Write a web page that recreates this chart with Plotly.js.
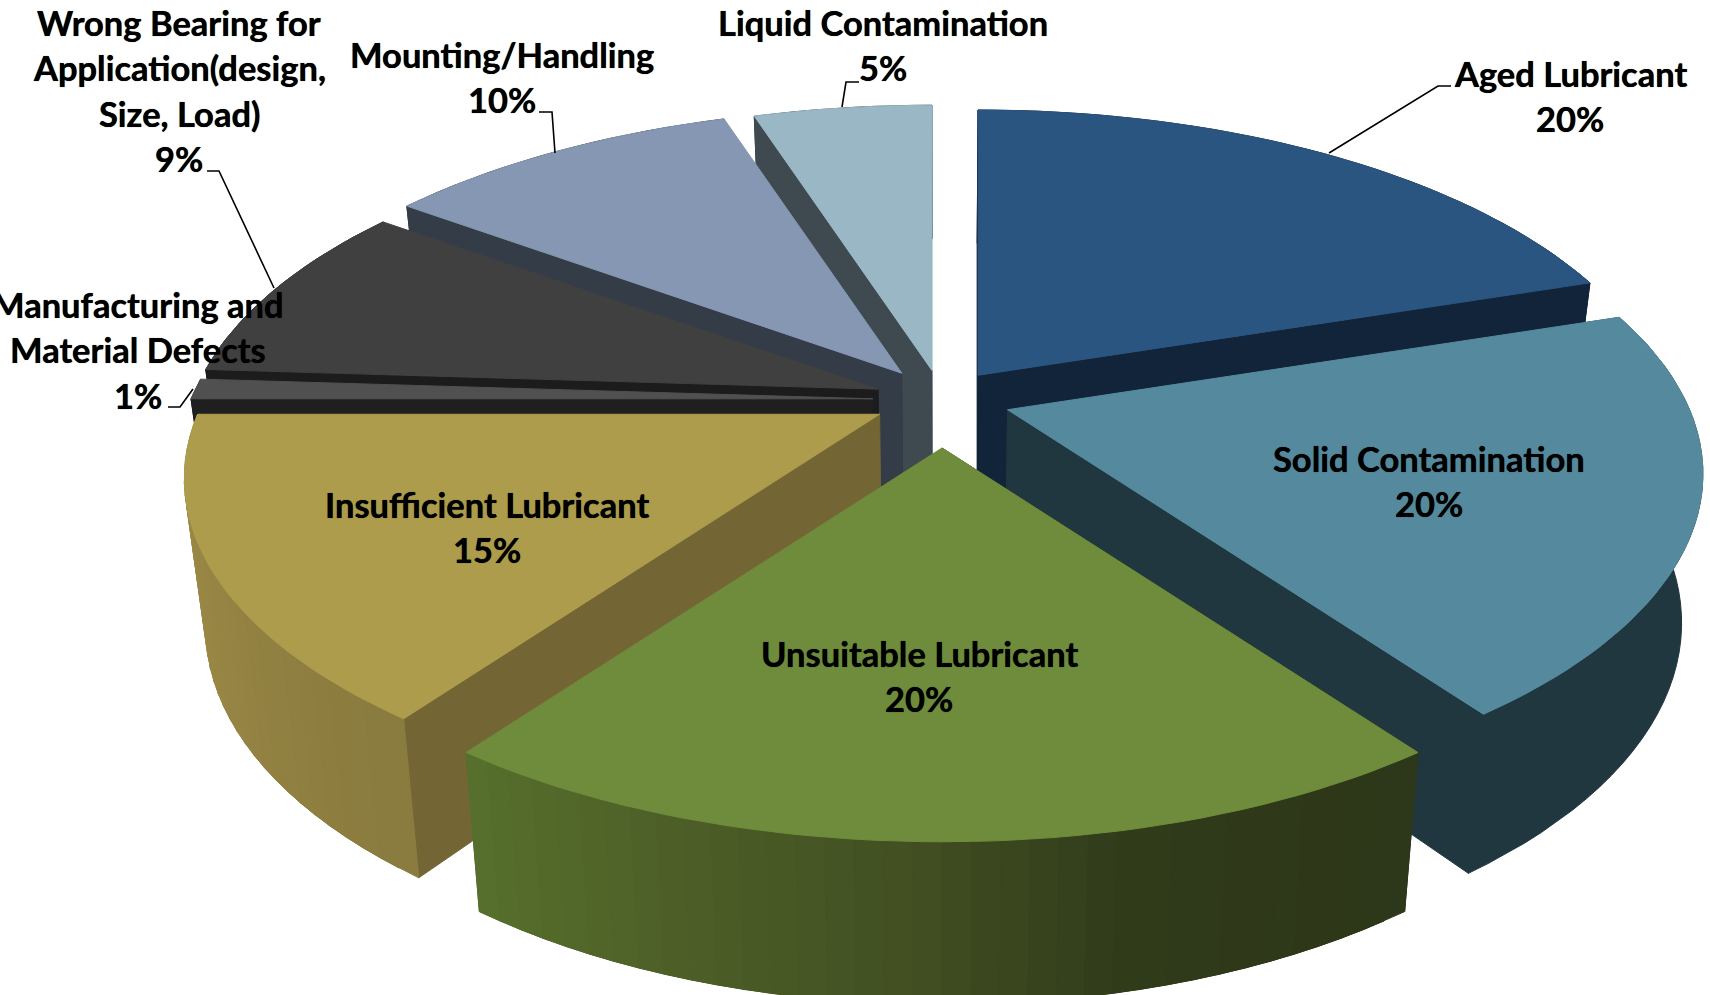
<!DOCTYPE html>
<html><head><meta charset="utf-8">
<script src="https://cdn.plot.ly/plotly-3.0.1.min.js"></script>
<style>html,body{margin:0;padding:0;background:#fff}#c{width:1710px;height:995px}</style>
</head><body><div id="c"></div>
<script>
// ---- data (clockwise from 12 o'clock) ----
const categories = ['Aged Lubricant','Solid Contamination','Unsuitable Lubricant','Insufficient Lubricant','Manufacturing and Material Defects','Wrong Bearing for Application(design, Size, Load)','Mounting/Handling','Liquid Contamination'];
const values = [20,20,20,15,1,9,10,5];
const topColors  = ['#2b5581','#558a9e','#6f8c3c','#ad9c4c','#505050','#404040','#8597b2','#9ab7c5'];
const faceColors = ['#11243a','#20373f','#2d3719','#736634','#1f1f1f','#1c1c1c','#333c47','#3e4a50'];
const wallStops = {
  2:[[144,'#2d3719'],[165,'#303b1a'],[180,'#414f22'],[200,'#4f6228'],[216,'#58722d']],
  3:[[216,'#8a7b3e'],[240,'#958443'],[270,'#a39046']]
};
// label lines per category, and where each block of text sits
const labelLines = [['Aged Lubricant'],['Solid Contamination'],['Unsuitable Lubricant'],['Insufficient Lubricant'],['Manufacturing and','Material Defects'],['Wrong Bearing for','Application(design,','Size, Load)'],['Mounting/Handling'],['Liquid Contamination']];
const labelAnchor = [[1570,73],[1429,458],[919,653],[487,504],[138,304],[179,22],[502,54],[883,22]];
const labelStep = 45.6;
const leaders = ['M1451 86 L1438 86 L1329 153','M859 82 L846 82 L842 107','M539 112 L552 112 L555 153','M207 171 L219 171 L274 288','M168 407 L180 407 L193 389'];
// small per-slice adjustment of the explosion offset
const explodeNudge = [[-5,4],[-1,-4],[0,8],[0,-5],[1,-2],[2,0],[1,2],[1,6]];

// ---- projection of the tilted, exploded 3-D pie ----
const A=682,B=317,K=0.195,CX=942,CY=402,EX=70,EY=38,DEPTH=146,SHRINK=0.972;
const rad=d=>d*Math.PI/180;
const persp=Y=>1/(1-K*Y);
function rim(ap,t){const Y=-Math.cos(rad(t)),s=persp(Y);return [ap[0]+A*Math.sin(rad(t))*s, ap[1]+B*Y*s, s];}
function low(p,s){return [CX+(p[0]-CX)*SHRINK, p[1]+DEPTH*Math.sqrt(s===undefined?1:s)];}
function hex(c){return [1,3,5].map(i=>parseInt(c.substr(i,2),16));}
function stopColor(stops,t){
  if(t<=stops[0][0])return stops[0][1];
  for(let i=1;i<stops.length;i++){ if(t<=stops[i][0]){
    const f=(t-stops[i-1][0])/(stops[i][0]-stops[i-1][0]),a=hex(stops[i-1][1]),b=hex(stops[i][1]);
    return 'rgb('+a.map((v,j)=>Math.round(v+(b[j]-v)*f)).join(',')+')';}}
  return stops[stops.length-1][1];
}
function poly(pts,color){
  return {type:'scatter',mode:'lines',x:pts.map(p=>p[0]).concat(pts[0][0]),y:pts.map(p=>p[1]).concat(pts[0][1]),
    fill:'toself',fillcolor:color,line:{color:color,width:1},hoverinfo:'skip',showlegend:false};
}
const total=values.reduce((a,b)=>a+b,0);
let acc=0;
const slices=values.map((v,i)=>{const t0=acc/total*360;acc+=v;const t1=acc/total*360;const m=(t0+t1)/2;
  return {i,t0,t1,m,ap:[CX+EX*Math.sin(rad(m))+explodeNudge[i][0],CY-EY*Math.cos(rad(m))+explodeNudge[i][1]]};});

const drawOrder=[0,7,6,5,4,1,3,2];
const traces=[];
function arc(t0,t1,step){const a=[];const n=Math.max(2,Math.ceil((t1-t0)/step));for(let j=0;j<=n;j++)a.push(t0+(t1-t0)*j/n);return a;}
drawOrder.forEach(idx=>{
  const S=slices[idx],ap=S.ap,apLow=low(ap,1);
  const face=t=>{const p=rim(ap,t);traces.push(poly([ap,p,low(p,p[2]),apLow],faceColors[idx]));};
  if(S.m<180){face(S.t0);face(S.t1);} else face(S.t0);
  // outer wall
  if(wallStops[idx]){
    const a=arc(S.t0,S.t1,2);
    for(let j=a.length-2;j>=0;j--){           // each strip overlaps the next one so no seams show
      const p=rim(ap,a[j]),q=rim(ap,a[Math.min(j+2,a.length-1)]);
      traces.push(poly([p,q,low(q,q[2]),low(p,p[2])],stopColor(wallStops[idx],(a[j]+a[j+1])/2)));
    }
  } else {
    const a=arc(S.t0,S.t1,2),up=a.map(t=>rim(ap,t)),dn=up.map(p=>low(p,p[2])).reverse();
    traces.push(poly(up.concat(dn),faceColors[idx]));
  }
  // top surface
  traces.push(poly([ap].concat(arc(S.t0,S.t1,1.5).map(t=>rim(ap,t))),topColors[idx]));
});

// ---- labels ----
const font={family:'Lato, Carlito, sans-serif',size:34.5,color:'#000',weight:700,shadow:'0 0 0.7px #000'};
const annotations=[];
categories.forEach((c,i)=>{
  const lines=labelLines[i].concat(values[i]+'%');
  lines.forEach((t,j)=>annotations.push({x:labelAnchor[i][0],y:labelAnchor[i][1]+j*labelStep,xref:'x',yref:'y',text:'<b>'+t+'</b>',showarrow:false,xanchor:'center',yanchor:'middle',font:font}));
});
const shapes=leaders.map(p=>({type:'path',path:p,xref:'x',yref:'y',line:{color:'#000',width:1.6},layer:'above'}));

Plotly.newPlot('c',traces,{
  width:1710,height:995,margin:{l:0,r:0,t:0,b:0},paper_bgcolor:'#fff',plot_bgcolor:'#fff',showlegend:false,
  xaxis:{range:[0,1710],visible:false,fixedrange:true},
  yaxis:{range:[995,0],visible:false,fixedrange:true},
  annotations,shapes,hovermode:false
},{displayModeBar:false,staticPlot:true});
</script></body></html>
